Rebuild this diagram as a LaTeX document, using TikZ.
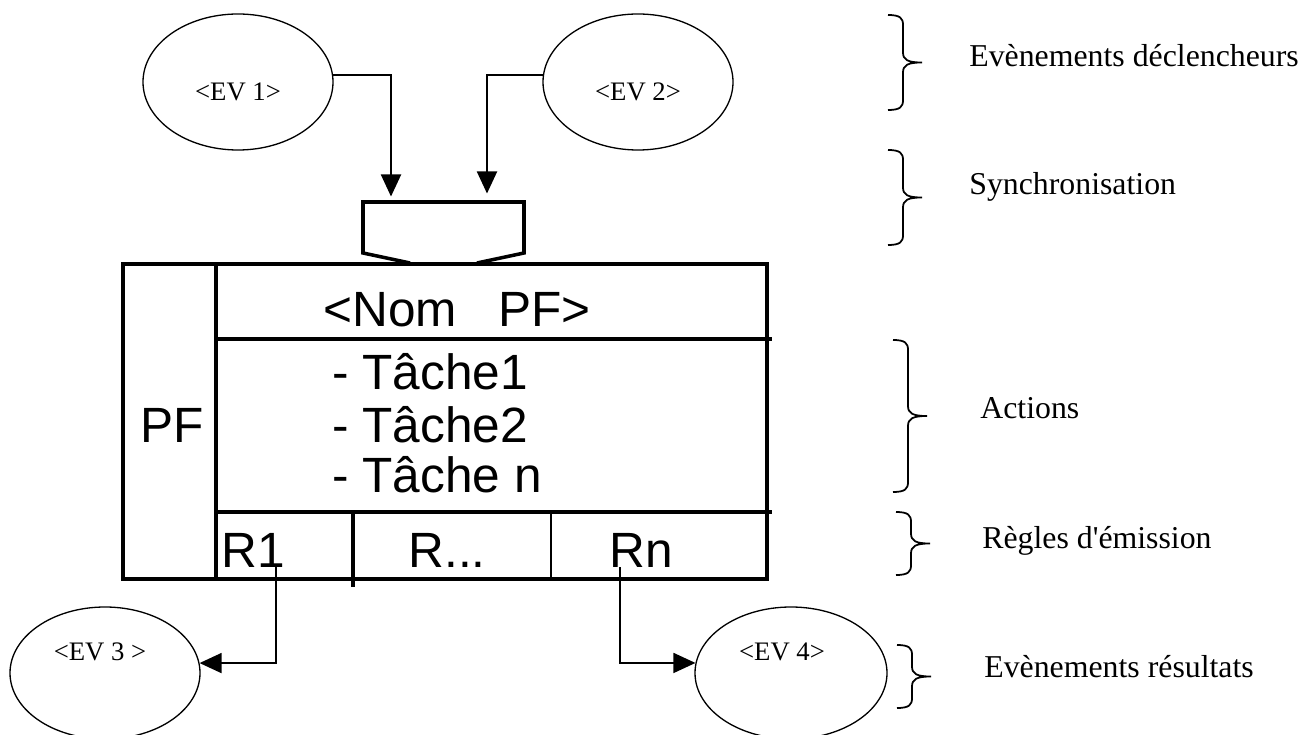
\documentclass[tikz,border=0pt]{standalone}
\usepackage{fontspec}
\setmainfont{Liberation Serif}
\newfontfamily\arialfont{Liberation Sans}
\usepackage{tikz}
\usetikzlibrary{arrows.meta}
\usetikzlibrary{calc}
\usetikzlibrary{shapes.geometric}

% right curly bracket: x, top y, bottom y
\newcommand{\accolade}[3]{%
	\pgfmathsetmacro{\accmid}{(#2+#3)/2}
	\draw[accline] (#1,#2) .. controls (#1+0.24,#2) and (#1+0.3,#2-0.06) .. (#1+0.3,#2-0.2)
		-- (#1+0.3,\accmid+0.2) .. controls (#1+0.3,\accmid+0.05) and (#1+0.4,\accmid) .. (#1+0.68,\accmid)
		.. controls (#1+0.4,\accmid) and (#1+0.3,\accmid-0.05) .. (#1+0.3,\accmid-0.2)
		-- (#1+0.3,#3+0.2) .. controls (#1+0.3,#3+0.06) and (#1+0.24,#3) .. (#1,#3);}

\tikzset{
	evt/.style={draw, ellipse, line width=0.75pt, inner sep=0pt, minimum width=3.8cm},
	evtxt/.style={font=\fontsize{15.2}{18}\selectfont, inner sep=0pt},
	boxtxt/.style={font=\arialfont\fontsize{28.2}{34}\selectfont, inner sep=0pt},
	lbl/.style={font=\fontsize{18.1}{22}\selectfont, inner sep=0pt, anchor=base west},
	conn/.style={->, line width=1.1pt},
	accline/.style={line width=1pt},
	boxline/.style={line width=1.8pt},
}

\begin{document}
\begin{tikzpicture}[>={Triangle[length=0.44cm,width=0.4cm]}]
	\useasboundingbox (0,0) rectangle (26.12,-14.7);
	
	%--- Trigger events ---
	\node[evt, minimum height=2.72cm] (ev1) at (4.76,-1.64) {};
	\node[evtxt] (ev1t) at (4.76,-1.84) {<EV 1>};
	\node[evt, minimum height=2.72cm] (ev2) at (12.76,-1.64) {};
	\node[evtxt] (ev2t) at (12.76,-1.84) {<EV 2>};
	
	%--- Synchronisation ---
	\draw[line width=2pt] (8.2,-5.26) -- (7.26,-5.06) -- (7.26,-4.04) -- (10.48,-4.04) -- (10.48,-5.06) -- (9.54,-5.26);
	\coordinate (in1) at (7.82,-3.93);
	\coordinate (in2) at (9.74,-3.87);
	
	\draw[conn] (ev1.4) -| (in1);
	\draw[conn] (ev2.176) -| (in2);
	
	%--- PF box ---
	\draw[boxline] (2.46,-5.28) rectangle (15.34,-11.58);
	\draw[boxline] (4.32,-5.28) -- (4.32,-11.58);
	\draw[boxline] (4.32,-6.78) -- (15.44,-6.78);
	\draw[boxline] (4.32,-10.24) -- (15.44,-10.24);
	\draw[boxline] (7.06,-10.24) -- (7.06,-11.74);
	\draw[line width=1.3pt] (11.02,-10.24) -- (11.02,-11.58);
	
	\node[boxtxt] (pf) at (3.44,-8.5) {PF};
	\node[boxtxt] (nom) at (9.14,-6.2) {<Nom~~~PF>};
	\node[boxtxt, anchor=base west] (t1) at (6.64,-7.8) {- Tâche1};
	\node[boxtxt, anchor=base west] (t2) at (6.64,-8.84) {- Tâche2};
	\node[boxtxt, anchor=base west] (t3) at (6.64,-9.84) {- Tâche n};
	
	% emission rules
	\node[boxtxt, anchor=base west] (r1) at (4.42,-11.34) {R1};
	\node[boxtxt, anchor=base] (rdots) at (8.94,-11.34) {R...};
	\node[boxtxt, anchor=base west] (rn) at (12.18,-11.34) {Rn};
	
	%--- Result events ---
	\node[evt, minimum height=2.64cm] (ev3) at (2.1,-13.46) {};
	\node[evtxt] (ev3t) at (2.0,-13.04) {<EV 3 >};
	\node[evt, minimum height=2.64cm, minimum width=3.84cm] (ev4) at (15.82,-13.46) {};
	\node[evtxt] (ev4t) at (15.64,-13.04) {<EV 4>};
	
	\draw[->, line width=0.9pt] ([xshift=-0.18cm]r1.base east) |- (ev3.6);
	\draw[->, line width=0.9pt] ([xshift=0.22cm]rn.base west) |- (ev4.174);
	
	%--- Brackets and their labels ---
	\accolade{17.76}{-0.3}{-2.2}
	\accolade{17.76}{-3.0}{-4.9}
	\accolade{17.86}{-6.8}{-9.84}
	\accolade{17.92}{-10.24}{-11.5}
	\accolade{17.94}{-12.9}{-14.16}
	
	\node[lbl] (ldecl) at (19.38,-1.34) {Evènements déclencheurs};
	\node[lbl] (lsync) at (19.38,-3.9) {Synchronisation};
	\node[lbl] (lact) at (19.6,-8.38) {Actions};
	\node[lbl] (lregl) at (19.64,-10.96) {Règles d\textquotesingle émission};
	\node[lbl] (lres) at (19.68,-13.54) {Evènements résultats};
	
\end{tikzpicture}
\end{document}
